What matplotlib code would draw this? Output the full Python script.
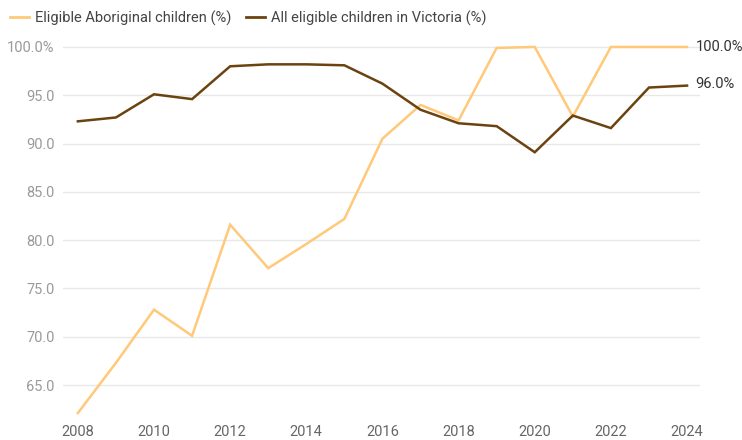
import matplotlib
matplotlib.use("Agg")
import matplotlib.pyplot as plt
from matplotlib.lines import Line2D

years = list(range(2008, 2025))
aboriginal = [62.1, 67.3, 72.8, 70.1, 81.6, 77.1, 79.6, 82.2, 90.5, 94.0, 92.4, 99.9, 100.0, 92.8, 100.0, 100.0, 100.0]
victoria = [92.3, 92.7, 95.1, 94.6, 98.0, 98.2, 98.2, 98.1, 96.2, 93.5, 92.1, 91.8, 89.1, 92.9, 91.6, 95.8, 96.0]
series_names = ["Eligible Aboriginal children (%)", "All eligible children in Victoria (%)"]
yticks = [65, 70, 75, 80, 85, 90, 95, 100]
xticks = list(range(2008, 2025, 2))

c_ab = "#FFC979"
c_vic = "#6B4310"

plt.rcParams['font.family'] = ['Roboto', 'DejaVu Sans']

fig = plt.figure(figsize=(7.42, 4.40), dpi=100)
W, H = 742, 440
left, right, top, bottom = 63, 700, 40, 415
ax = fig.add_axes([left / W, 1 - bottom / H, (right - left) / W, (bottom - top) / H])
ax.set_xlim(2007.61, 2024.34)
ax.set_ylim(61.9, 100.72)

ax.plot(years, aboriginal, color=c_ab, lw=1.8, clip_on=False, solid_joinstyle='miter', zorder=3)
ax.plot(years, victoria, color=c_vic, lw=1.8, clip_on=False, solid_joinstyle='miter', zorder=4)

ax.set_yticks(yticks)
ax.set_yticklabels([("%.1f%%" % v) if v == 100 else ("%.1f" % v) for v in yticks])
ax.set_xticks(xticks)
ax.set_xticklabels([str(x) for x in xticks])
ax.tick_params(axis='y', length=0, pad=6, labelsize=10.5, labelcolor="#9a9a9a")
ax.tick_params(axis='x', length=0, pad=7, labelsize=10.5, labelcolor="#666666")
ax.grid(axis='y', color="#e8e8e8", lw=1)
ax.set_axisbelow(True)
for s in ax.spines.values():
    s.set_visible(False)

ax.annotate("%.1f%%" % aboriginal[-1], xy=(years[-1], aboriginal[-1]), xytext=(6, 0),
            textcoords='offset points', va='center', ha='left', fontsize=10.5, color="#333333")
ax.annotate("%.1f%%" % victoria[-1], xy=(years[-1], victoria[-1]), xytext=(6, 1),
            textcoords='offset points', va='center', ha='left', fontsize=10.5, color="#333333")

handles = [Line2D([0], [0], color=c_ab, lw=2), Line2D([0], [0], color=c_vic, lw=2)]
fig.legend(handles, series_names, loc='upper left', bbox_to_anchor=(0.0, 1.0), ncol=2,
           frameon=False, fontsize=10.5, handlelength=1.3, handletextpad=0.4,
           columnspacing=1.0, labelcolor="#444444", borderaxespad=0.3)

fig.savefig("out.png", dpi=100)
